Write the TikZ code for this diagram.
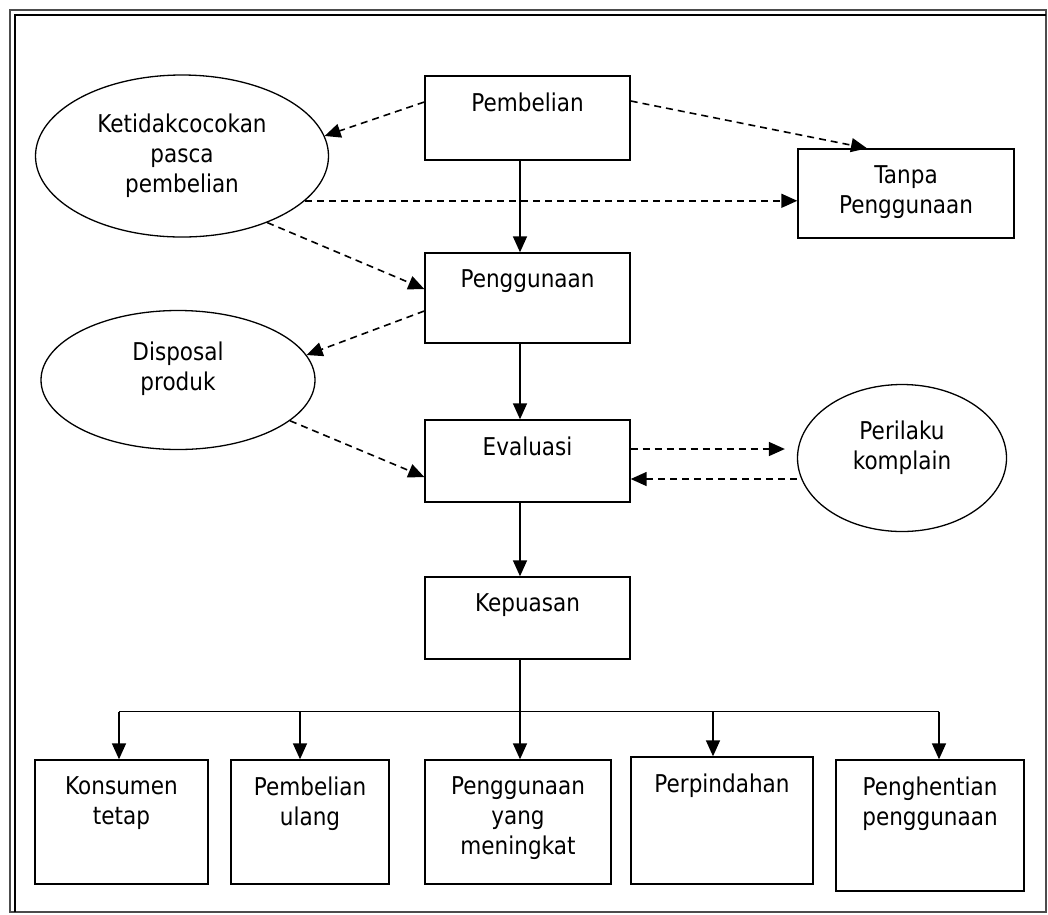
\documentclass[tikz,border=0pt]{standalone}
\usepackage{fontspec}
\setmainfont{DejaVu Sans}[FakeStretch=0.88]
\usetikzlibrary{arrows.meta,shapes.geometric}

\begin{document}
\begin{tikzpicture}[x=1pt,y=-1pt,
  every node/.style={font=\fontsize{24.5}{30}\selectfont},
  box/.style={draw,line width=1.4pt,inner sep=0pt},
  oval/.style={draw,ellipse,line width=1.3pt,inner sep=0pt},
  txt/.style={anchor=north,yshift=-17pt,inner sep=0pt,align=center},
  otxt/.style={anchor=center,inner sep=0pt,align=center},
  flow/.style={-{Triangle[length=16pt,width=14pt]},line width=1.6pt},
  dflow/.style={flow,dash pattern=on 7pt off 5pt}]
  \useasboundingbox (0,0) rectangle (1048,914);
  % frame
  \draw[line width=1.5pt,black!70] (10,10) rectangle (1046,912);
  \draw[line width=1.8pt] (15,912) -- (15,15) -- (1046,15);

  % main column
  \node[box,minimum width=205pt,minimum height=84pt,label={[txt]north:Pembelian}] (pemb) at (527.5,118) {};
  \node[box,minimum width=205pt,minimum height=90pt,label={[txt]north:Penggunaan}] (peng) at (527.5,298) {};
  \node[box,minimum width=205pt,minimum height=82pt,label={[txt]north:Evaluasi}] (eval) at (527.5,461) {};
  \node[box,minimum width=205pt,minimum height=82pt,label={[txt]north:Kepuasan}] (kep) at (527.5,618) {};
  \node[box,minimum width=216pt,minimum height=89pt,label={[txt]north:{Tanpa\\Penggunaan}}] (tanpa) at (906,193.5) {};

  % side ovals
  \node[oval,minimum width=293pt,minimum height=162pt,label={[otxt]center:{Ketidakcocokan\\pasca\\pembelian}}] (ketid) at (182,156) {};
  \node[oval,minimum width=274pt,minimum height=139pt,label={[otxt,yshift=11pt]center:{Disposal\\produk}}] (disp) at (178,380) {};
  \node[oval,minimum width=209pt,minimum height=147pt,label={[otxt,yshift=10pt]center:{Perilaku\\komplain}}] (kompl) at (902,458) {};

  % outcomes
  \node[box,minimum width=173pt,minimum height=124pt,label={[txt]north:{Konsumen\\tetap}}] (kon) at (121.5,822) {};
  \node[box,minimum width=158pt,minimum height=124pt,label={[txt]north:{Pembelian\\ulang}}] (ulang) at (310,822) {};
  \node[box,minimum width=186pt,minimum height=124pt,label={[txt]north:{Penggunaan\\yang\\meningkat}}] (naik) at (518,822) {};
  \node[box,minimum width=182pt,minimum height=127pt,label={[txt]north:Perpindahan}] (pindah) at (722,820.5) {};
  \node[box,minimum width=188pt,minimum height=131pt,label={[txt]north:{Penghentian\\penggunaan}}] (henti) at (930,825.5) {};

  % solid flow
  \coordinate (axis) at (520,0);
  \draw[flow] (pemb.south -| axis) -- (peng.north -| axis);
  \draw[flow] (peng.south -| axis) -- (eval.north -| axis);
  \draw[flow] (eval.south -| axis) -- (kep.north -| axis);
  \draw[flow] (kep.south -| axis) -- (naik.north -| axis);
  \path (kep.south -| axis) ++(0,52) coordinate (split);
  \foreach \n/\x in {kon/119,ulang/300,pindah/713,henti/939}
    \coordinate (top-\n) at (\n.north -| \x,0);
  \draw[line width=1.5pt] (top-kon |- split) -- (top-henti |- split);
  \foreach \n in {kon,ulang,pindah,henti}
    \draw[flow] (top-\n |- split) -- (top-\n);

  % dashed flow
  \draw[dflow] ([yshift=16pt]pemb.west) -- (ketid.8);
  \draw[dflow] ([yshift=17pt]pemb.east) -- ([xshift=-39pt]tanpa.north);
  \draw[dflow] (ketid.-20) -- (ketid.-20 -| tanpa.west);
  \draw[dflow] (ketid.-38) -- ([yshift=9pt]peng.west);
  \draw[dflow] ([yshift=-13pt]peng.west) -- (disp.11);
  \draw[dflow] (disp.-20) -- ([yshift=-16pt]eval.west);
  \draw[dflow,shorten >=12pt] ([yshift=12pt]eval.east) -- ([yshift=12pt]eval.east -| kompl.west);
  \draw[dflow] ([yshift=-18pt]eval.east -| kompl.west) -- ([yshift=-18pt]eval.east);
\end{tikzpicture}
\end{document}
